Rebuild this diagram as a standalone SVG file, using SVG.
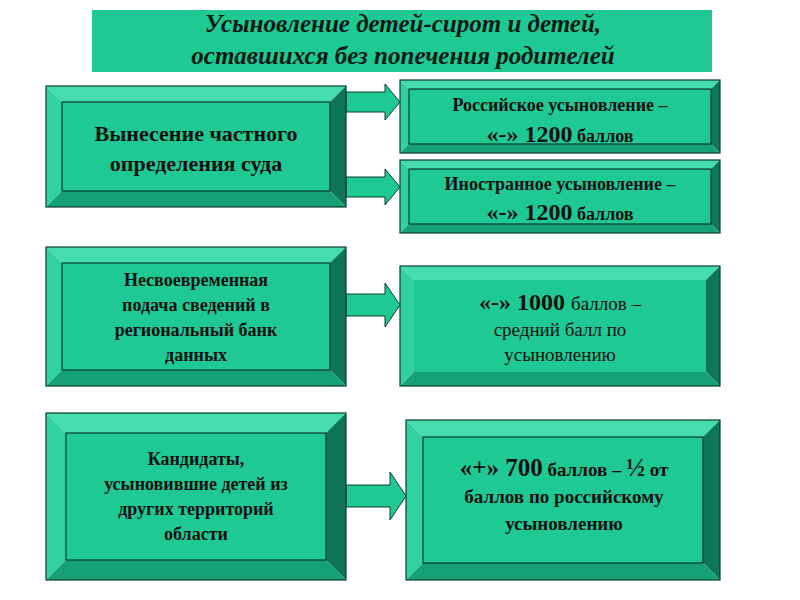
<svg xmlns="http://www.w3.org/2000/svg" width="800" height="600" viewBox="0 0 800 600">
<style>
.f{fill:#1ec994}.t{fill:#45dcae}.l{fill:#2fd2a0}.r{fill:#0e7656}.b{fill:#16a077}
.o{fill:none;stroke:#0a3d2c;stroke-width:1.2}
.a{fill:#1ec994;stroke:#0a3d2c;stroke-width:1}
text{font-family:"Liberation Serif",serif;font-weight:bold;fill:#111;text-anchor:middle}
.n{font-weight:normal}
.ti{font-style:italic;font-size:25px;fill:#0b1a14}
</style>
<rect x="92" y="10" width="620" height="62" fill="#1ec994"/>
<g id="title">
<text class="ti" x="403" y="32">Усыновление детей-сирот и детей,</text>
<text class="ti" x="403" y="64">оставшихся без попечения родителей</text></g>
<g id="connectors">
<path class="a" d="M346,92H385V84L400,102L385,120V112H346Z"/>
<path class="a" d="M346,177H385V169L400,187L385,205V197H346Z"/>
<path class="a" d="M346,294H385V283L400,305L385,327V316H346Z"/>
<path class="a" d="M346,485H390V472L406,496L390,520V507H346Z"/>
</g>
<g id="n1"><path class="t" d="M46,86H346L330,102H62Z"/><path class="l" d="M46,86L62,102V191L46,207Z"/><path class="r" d="M346,86V207L330,191V102Z"/><path class="b" d="M46,207H346L330,191H62Z"/><rect class="f" x="62" y="102" width="268" height="89"/><rect class="o" x="46" y="86" width="300" height="121"/><rect class="o" x="62" y="102" width="268" height="89" stroke-width="0.8"/>
<text font-size="22" x="196" y="141">Вынесение частного</text><text font-size="22" x="196" y="171">определения суда</text></g>
<g id="n2"><path class="t" d="M400,80H720L711,89H409Z"/><path class="l" d="M400,80L409,89V144L400,153Z"/><path class="r" d="M720,80V153L711,144V89Z"/><path class="b" d="M400,153H720L711,144H409Z"/><rect class="f" x="409" y="89" width="302" height="55"/><rect class="o" x="400" y="80" width="320" height="73"/><rect class="o" x="409" y="89" width="302" height="55" stroke-width="0.8"/>
<text font-size="18" x="560" y="111">Российское усыновление –</text><text font-size="18" x="560" y="142"><tspan font-size="24">«-» 1200</tspan> баллов</text></g>
<g id="n3"><path class="t" d="M400,160H720L711,169H409Z"/><path class="l" d="M400,160L409,169V224L400,233Z"/><path class="r" d="M720,160V233L711,224V169Z"/><path class="b" d="M400,233H720L711,224H409Z"/><rect class="f" x="409" y="169" width="302" height="55"/><rect class="o" x="400" y="160" width="320" height="73"/><rect class="o" x="409" y="169" width="302" height="55" stroke-width="0.8"/>
<text font-size="18" x="560" y="190">Иностранное усыновление –</text><text font-size="18" x="560" y="220"><tspan font-size="24">«-» 1200</tspan> баллов</text></g>
<g id="n4"><path class="t" d="M46,247H346L330,263H62Z"/><path class="l" d="M46,247L62,263V370L46,386Z"/><path class="r" d="M346,247V386L330,370V263Z"/><path class="b" d="M46,386H346L330,370H62Z"/><rect class="f" x="62" y="263" width="268" height="107"/><rect class="o" x="46" y="247" width="300" height="139"/><rect class="o" x="62" y="263" width="268" height="107" stroke-width="0.8"/>
<text font-size="18" x="196" y="286">Несвоевременная</text><text font-size="18" x="196" y="311">подача сведений в</text><text font-size="18" x="196" y="336">региональный банк</text><text font-size="18" x="196" y="361">данных</text></g>
<g id="n5"><path class="t" d="M400,266H720L706,280H414Z"/><path class="l" d="M400,266L414,280V372L400,386Z"/><path class="r" d="M720,266V386L706,372V280Z"/><path class="b" d="M400,386H720L706,372H414Z"/><rect class="f" x="414" y="280" width="292" height="92"/><rect class="o" x="400" y="266" width="320" height="120"/>
<text font-size="24" x="560" y="310">«-» 1000 <tspan class="n" font-size="19">баллов –</tspan></text><text font-size="19" class="n" x="560" y="336">средний балл по</text><text font-size="19" class="n" x="560" y="361">усыновлению</text></g>
<g id="n6"><path class="t" d="M46,413H346L326,433H66Z"/><path class="l" d="M46,413L66,433V560L46,580Z"/><path class="r" d="M346,413V580L326,560V433Z"/><path class="b" d="M46,580H346L326,560H66Z"/><rect class="f" x="66" y="433" width="260" height="127"/><rect class="o" x="46" y="413" width="300" height="167"/><rect class="o" x="66" y="433" width="260" height="127" stroke-width="0.8"/>
<text font-size="18" x="196" y="465">Кандидаты,</text><text font-size="18" x="196" y="490">усыновившие детей из</text><text font-size="18" x="196" y="515">других территорий</text><text font-size="18" x="196" y="540">области</text></g>
<g id="n7"><path class="t" d="M406,420H720L703,437H423Z"/><path class="l" d="M406,420L423,437V563L406,580Z"/><path class="r" d="M720,420V580L703,563V437Z"/><path class="b" d="M406,580H720L703,563H423Z"/><rect class="f" x="423" y="437" width="280" height="126"/><rect class="o" x="406" y="420" width="314" height="160"/><rect class="o" x="423" y="437" width="280" height="126" stroke-width="0.8"/>
<text font-size="19" x="564" y="476"><tspan font-size="25">«+» 700</tspan> баллов – <tspan font-size="25">½</tspan> от</text><text font-size="19" x="564" y="503">баллов по российскому</text><text font-size="19" x="564" y="530">усыновлению</text></g>
</svg>
